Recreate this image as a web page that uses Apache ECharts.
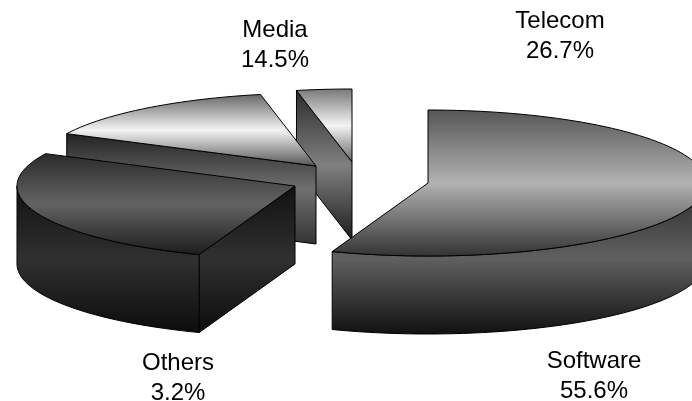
<!DOCTYPE html>
<html>
<head>
<meta charset="utf-8">
<style>html,body{margin:0;padding:0;background:#fff}#c{width:692px;height:401px}</style>
<script src="https://cdn.jsdelivr.net/npm/echarts@6/dist/echarts.min.js"></script>
</head>
<body>
<div id="c"></div>
<script>
// Data, in drawing order round the pie, clockwise from 12 o'clock
var sliceNames = ['Software', 'Others', 'Media', 'Telecom'];
var sliceValues = [55.6, 26.7, 14.5, 3.2];
var labelPercents = ['55.6%', '3.2%', '14.5%', '26.7%'];

// Layout
var apexes = [[428, 183], [295, 186], [316, 166], [352, 162]];
var labelCentres = [[594, 376], [178, 378], [275, 45], [560, 36]];
var RX = 278, RY = 73, DEPTH = 78;
var topStops = [['#555', '#b2b2b2', '#333'], ['#2a2a2a', '#636363', '#1c1c1c'], ['#666', '#f4f4f4', '#555'], ['#777', '#f4f4f4', '#666']];
var rimStops = [['#2a2a2a', '#606060', '#111'], ['#111', '#303030', '#0c0c0c'], ['#222', '#707070', '#333'], ['#2a2a2a', '#808080', '#1c1c1c']];

function grad(s) {
  return new echarts.graphic.LinearGradient(0, 0, 0, 1, [
    { offset: 0, color: s[0] }, { offset: 0.5, color: s[1] }, { offset: 1, color: s[2] }
  ]);
}
function rad(d) { return d * Math.PI / 180; }
function pt(c, a, dy) { return [c[0] + RX * Math.sin(rad(a)), c[1] - RY * Math.cos(rad(a)) + (dy || 0)]; }
function arc(c, a0, a1, dy) {
  var out = [], n = Math.max(2, Math.ceil(Math.abs(a1 - a0) / 2));
  for (var i = 0; i <= n; i++) out.push(pt(c, a0 + (a1 - a0) * i / n, dy));
  return out;
}
function face(points, stops, z) {
  return { type: 'polygon', shape: { points: points }, z2: z,
    style: { fill: grad(stops), stroke: '#000', lineWidth: 1, lineJoin: 'round' } };
}
var total = sliceValues.reduce(function (a, b) { return a + b; }, 0);

function renderItem(params, api) {
  var i = params.dataIndex;
  var before = 0;
  for (var k = 0; k < i; k++) before += sliceValues[k];
  var a0 = before / total * 360, a1 = a0 + api.value(0) / total * 360;
  var c = apexes[i], z = (sliceValues.length - i) * 10, kids = [];
  var below = [c[0], c[1] + DEPTH];

  // cut faces turned towards the viewer
  if (Math.sin(rad(a0)) < -1e-6) kids.push(face([c, pt(c, a0), pt(c, a0, DEPTH), below], rimStops[i], z));
  if (Math.sin(rad(a1)) > 1e-6) kids.push(face([c, pt(c, a1), pt(c, a1, DEPTH), below], rimStops[i], z));
  // front rim: the part of the arc between 90 and 270 degrees
  var r0 = Math.max(a0, 90), r1 = Math.min(a1, 270);
  if (r1 > r0) kids.push(face(arc(c, r0, r1, 0).concat(arc(c, r1, r0, DEPTH)), rimStops[i], z + 1));
  // top
  kids.push(face([c].concat(arc(c, a0, a1, 0)), topStops[i], z + 2));
  // label
  kids.push({ type: 'text', z2: 100, x: labelCentres[i][0], y: labelCentres[i][1],
    style: { text: sliceNames[i] + '\n' + labelPercents[i], fill: '#000', align: 'center', verticalAlign: 'middle',
      font: '24px "Liberation Sans", Arial, sans-serif', lineHeight: 30 } });
  return { type: 'group', children: kids };
}

var chart = echarts.init(document.getElementById('c'), null, { renderer: 'canvas' });
chart.setOption({
  animation: false,
  backgroundColor: '#fff',
  series: [{
    type: 'custom',
    coordinateSystem: 'none',
    silent: true,
    renderItem: renderItem,
    data: sliceValues.map(function (v, i) { return { name: sliceNames[i], value: [v] }; })
  }]
});
</script>
</body>
</html>
